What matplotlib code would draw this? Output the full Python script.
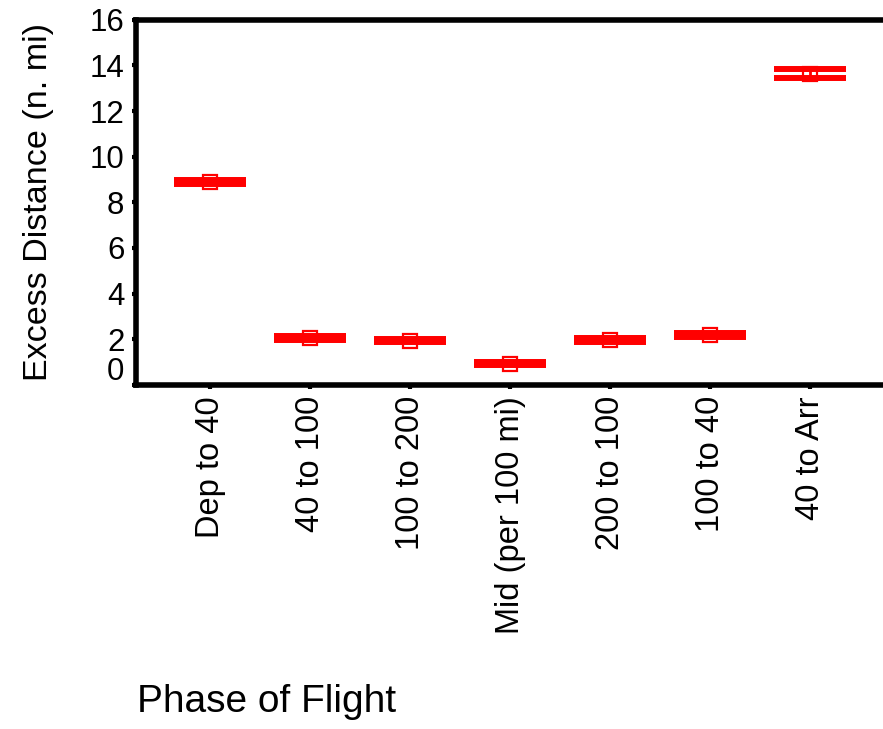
import matplotlib
matplotlib.use('Agg')
import matplotlib.pyplot as plt
import matplotlib.transforms as mtrans
import numpy as np

plt.rcParams['font.family'] = ['Liberation Sans', 'DejaVu Sans']

# excess distance per phase of flight (n. mi)
phases = ['Dep to 40', '40 to 100', '100 to 200', 'Mid (per 100 mi)',
          '200 to 100', '100 to 40', '40 to Arr']
mean_vals = [8.89, 2.06, 1.94, 0.94, 1.97, 2.19, 13.64]
lower_vals = [8.80, 1.97, 1.87, 0.88, 1.88, 2.10, 13.45]
upper_vals = [8.98, 2.15, 2.00, 1.01, 2.06, 2.28, 13.82]
y_ticks = [0, 2, 4, 6, 8, 10, 12, 14, 16]

red = '#ff0000'

fig = plt.figure(figsize=(8.83, 7.29), dpi=100)
ax = fig.add_axes([0.1535, 0.4719, 0.8545, 0.5011])

x = np.arange(len(phases))
mean = np.array(mean_vals)
err = [mean - np.array(lower_vals), np.array(upper_vals) - mean]

ax.plot(x, mean, linestyle='none', marker='s', markersize=10,
        markerfacecolor='white', markeredgecolor=red, markeredgewidth=1.6,
        zorder=2)
ax.errorbar(x, mean, yerr=err, fmt='none', ecolor=red, elinewidth=2,
            capsize=26, capthick=4.3, zorder=3)

ax.set_xlim(-0.745, 6.8)
ax.set_ylim(0, 16)
ax.set_yticks(y_ticks)
ax.set_xticks(x)
ax.set_xticklabels(phases, rotation=90, ha='center', va='top')

for side in ['left', 'bottom', 'top']:
    ax.spines[side].set_linewidth(4)
ax.spines['right'].set_visible(False)

ax.tick_params(axis='both', direction='out', length=3, width=3,
               labelsize=22.5, pad=5)
ax.tick_params(axis='x', labelsize=23.5)

# the "0" label sits a bit above its tick
zero_lbl = ax.get_yticklabels()[0]
zero_lbl.set_transform(zero_lbl.get_transform() +
                       mtrans.ScaledTranslation(0, 0.16, fig.dpi_scale_trans))

ax.set_ylabel('Excess Distance (n. mi)', fontsize=24.5)
ax.yaxis.set_label_coords(-0.108, 0.5)

fig.text(137 / 883, 1 - 712 / 729, 'Phase of Flight', fontsize=28,
         ha='left', va='baseline')

fig.savefig('out.png', dpi=100)
